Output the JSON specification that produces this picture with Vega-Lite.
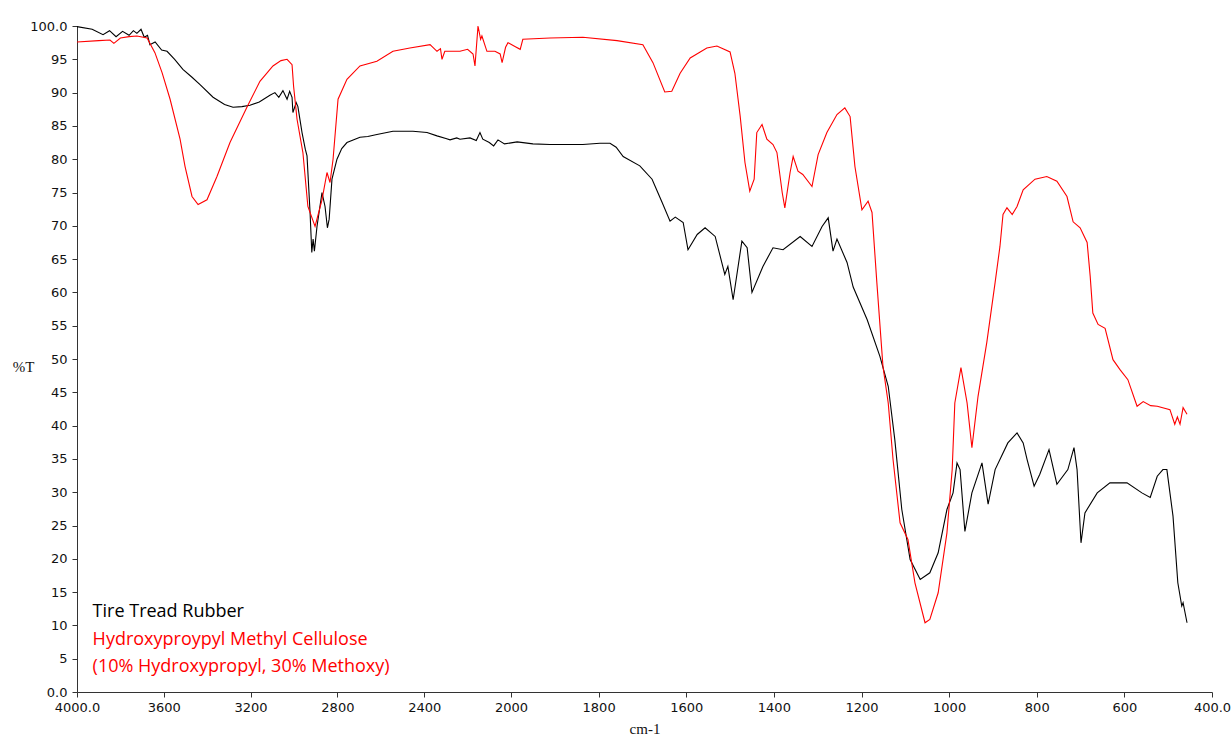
{
  "$schema": "https://vega.github.io/schema/vega-lite/v6.json",
  "width": 1135,
  "height": 666,
  "autosize": {"type": "none"},
  "padding": {"left": 77, "top": 26, "right": 19, "bottom": 46},
  "background": "white",
  "config": {"view": {"stroke": null}},
  "datasets": {
    "spectra": [
      {"series": "Tire Tread Rubber", "wn": 4000, "t": 99.9},
      {"series": "Tire Tread Rubber", "wn": 3930, "t": 99.5},
      {"series": "Tire Tread Rubber", "wn": 3880, "t": 98.7},
      {"series": "Tire Tread Rubber", "wn": 3850, "t": 99.3},
      {"series": "Tire Tread Rubber", "wn": 3820, "t": 98.4},
      {"series": "Tire Tread Rubber", "wn": 3790, "t": 99.2},
      {"series": "Tire Tread Rubber", "wn": 3760, "t": 98.6},
      {"series": "Tire Tread Rubber", "wn": 3740, "t": 99.3},
      {"series": "Tire Tread Rubber", "wn": 3724, "t": 98.9},
      {"series": "Tire Tread Rubber", "wn": 3705, "t": 99.5},
      {"series": "Tire Tread Rubber", "wn": 3690, "t": 98.3},
      {"series": "Tire Tread Rubber", "wn": 3675, "t": 98.6},
      {"series": "Tire Tread Rubber", "wn": 3664, "t": 97.2},
      {"series": "Tire Tread Rubber", "wn": 3640, "t": 97.6},
      {"series": "Tire Tread Rubber", "wn": 3610, "t": 96.4},
      {"series": "Tire Tread Rubber", "wn": 3585, "t": 96.2},
      {"series": "Tire Tread Rubber", "wn": 3550, "t": 95.0},
      {"series": "Tire Tread Rubber", "wn": 3512, "t": 93.5},
      {"series": "Tire Tread Rubber", "wn": 3470, "t": 92.3},
      {"series": "Tire Tread Rubber", "wn": 3433, "t": 91.2},
      {"series": "Tire Tread Rubber", "wn": 3373, "t": 89.3},
      {"series": "Tire Tread Rubber", "wn": 3320, "t": 88.2},
      {"series": "Tire Tread Rubber", "wn": 3281, "t": 87.8},
      {"series": "Tire Tread Rubber", "wn": 3240, "t": 87.9},
      {"series": "Tire Tread Rubber", "wn": 3203, "t": 88.1},
      {"series": "Tire Tread Rubber", "wn": 3160, "t": 88.6},
      {"series": "Tire Tread Rubber", "wn": 3111, "t": 89.6},
      {"series": "Tire Tread Rubber", "wn": 3088, "t": 90.0},
      {"series": "Tire Tread Rubber", "wn": 3070, "t": 89.3},
      {"series": "Tire Tread Rubber", "wn": 3051, "t": 90.3},
      {"series": "Tire Tread Rubber", "wn": 3032, "t": 89.0},
      {"series": "Tire Tread Rubber", "wn": 3020, "t": 90.2},
      {"series": "Tire Tread Rubber", "wn": 3009, "t": 89.3},
      {"series": "Tire Tread Rubber", "wn": 3005, "t": 87.0},
      {"series": "Tire Tread Rubber", "wn": 2990, "t": 88.5},
      {"series": "Tire Tread Rubber", "wn": 2982, "t": 87.9},
      {"series": "Tire Tread Rubber", "wn": 2963, "t": 84.0},
      {"series": "Tire Tread Rubber", "wn": 2948, "t": 81.5},
      {"series": "Tire Tread Rubber", "wn": 2940, "t": 80.5},
      {"series": "Tire Tread Rubber", "wn": 2926, "t": 72.0},
      {"series": "Tire Tread Rubber", "wn": 2918, "t": 66.0},
      {"series": "Tire Tread Rubber", "wn": 2912, "t": 68.0},
      {"series": "Tire Tread Rubber", "wn": 2906, "t": 66.2},
      {"series": "Tire Tread Rubber", "wn": 2894, "t": 69.9},
      {"series": "Tire Tread Rubber", "wn": 2871, "t": 75.0},
      {"series": "Tire Tread Rubber", "wn": 2857, "t": 72.9},
      {"series": "Tire Tread Rubber", "wn": 2846, "t": 69.7},
      {"series": "Tire Tread Rubber", "wn": 2838, "t": 71.0},
      {"series": "Tire Tread Rubber", "wn": 2825, "t": 77.0},
      {"series": "Tire Tread Rubber", "wn": 2802, "t": 80.0},
      {"series": "Tire Tread Rubber", "wn": 2780, "t": 81.6},
      {"series": "Tire Tread Rubber", "wn": 2756, "t": 82.5},
      {"series": "Tire Tread Rubber", "wn": 2696, "t": 83.3},
      {"series": "Tire Tread Rubber", "wn": 2660, "t": 83.4},
      {"series": "Tire Tread Rubber", "wn": 2618, "t": 83.7},
      {"series": "Tire Tread Rubber", "wn": 2544, "t": 84.2},
      {"series": "Tire Tread Rubber", "wn": 2452, "t": 84.2},
      {"series": "Tire Tread Rubber", "wn": 2387, "t": 84.0},
      {"series": "Tire Tread Rubber", "wn": 2341, "t": 83.5},
      {"series": "Tire Tread Rubber", "wn": 2300, "t": 83.1},
      {"series": "Tire Tread Rubber", "wn": 2281, "t": 82.9},
      {"series": "Tire Tread Rubber", "wn": 2250, "t": 83.2},
      {"series": "Tire Tread Rubber", "wn": 2235, "t": 83.0},
      {"series": "Tire Tread Rubber", "wn": 2189, "t": 83.2},
      {"series": "Tire Tread Rubber", "wn": 2160, "t": 82.8},
      {"series": "Tire Tread Rubber", "wn": 2143, "t": 84.0},
      {"series": "Tire Tread Rubber", "wn": 2130, "t": 83.0},
      {"series": "Tire Tread Rubber", "wn": 2100, "t": 82.5},
      {"series": "Tire Tread Rubber", "wn": 2080, "t": 82.0},
      {"series": "Tire Tread Rubber", "wn": 2060, "t": 82.9},
      {"series": "Tire Tread Rubber", "wn": 2030, "t": 82.3},
      {"series": "Tire Tread Rubber", "wn": 1986, "t": 82.6},
      {"series": "Tire Tread Rubber", "wn": 1950, "t": 82.3},
      {"series": "Tire Tread Rubber", "wn": 1911, "t": 82.2},
      {"series": "Tire Tread Rubber", "wn": 1836, "t": 82.2},
      {"series": "Tire Tread Rubber", "wn": 1797, "t": 82.4},
      {"series": "Tire Tread Rubber", "wn": 1774, "t": 82.4},
      {"series": "Tire Tread Rubber", "wn": 1760, "t": 81.8},
      {"series": "Tire Tread Rubber", "wn": 1744, "t": 80.4},
      {"series": "Tire Tread Rubber", "wn": 1706, "t": 79.0},
      {"series": "Tire Tread Rubber", "wn": 1678, "t": 77.0},
      {"series": "Tire Tread Rubber", "wn": 1655, "t": 73.5},
      {"series": "Tire Tread Rubber", "wn": 1637, "t": 70.7},
      {"series": "Tire Tread Rubber", "wn": 1625, "t": 71.3},
      {"series": "Tire Tread Rubber", "wn": 1607, "t": 70.5},
      {"series": "Tire Tread Rubber", "wn": 1596, "t": 66.4},
      {"series": "Tire Tread Rubber", "wn": 1575, "t": 68.7},
      {"series": "Tire Tread Rubber", "wn": 1557, "t": 69.7},
      {"series": "Tire Tread Rubber", "wn": 1534, "t": 68.4},
      {"series": "Tire Tread Rubber", "wn": 1512, "t": 62.7},
      {"series": "Tire Tread Rubber", "wn": 1505, "t": 63.9},
      {"series": "Tire Tread Rubber", "wn": 1493, "t": 58.9},
      {"series": "Tire Tread Rubber", "wn": 1473, "t": 67.7},
      {"series": "Tire Tread Rubber", "wn": 1461, "t": 66.7},
      {"series": "Tire Tread Rubber", "wn": 1450, "t": 60.0},
      {"series": "Tire Tread Rubber", "wn": 1425, "t": 63.9},
      {"series": "Tire Tread Rubber", "wn": 1402, "t": 66.7},
      {"series": "Tire Tread Rubber", "wn": 1379, "t": 66.4},
      {"series": "Tire Tread Rubber", "wn": 1340, "t": 68.4},
      {"series": "Tire Tread Rubber", "wn": 1313, "t": 66.9},
      {"series": "Tire Tread Rubber", "wn": 1290, "t": 69.9},
      {"series": "Tire Tread Rubber", "wn": 1276, "t": 71.2},
      {"series": "Tire Tread Rubber", "wn": 1265, "t": 66.2},
      {"series": "Tire Tread Rubber", "wn": 1256, "t": 68.0},
      {"series": "Tire Tread Rubber", "wn": 1233, "t": 64.5},
      {"series": "Tire Tread Rubber", "wn": 1219, "t": 60.8},
      {"series": "Tire Tread Rubber", "wn": 1187, "t": 55.9},
      {"series": "Tire Tread Rubber", "wn": 1158, "t": 50.4},
      {"series": "Tire Tread Rubber", "wn": 1139, "t": 45.9},
      {"series": "Tire Tread Rubber", "wn": 1124, "t": 37.9},
      {"series": "Tire Tread Rubber", "wn": 1108, "t": 27.4},
      {"series": "Tire Tread Rubber", "wn": 1089, "t": 19.9},
      {"series": "Tire Tread Rubber", "wn": 1066, "t": 16.9},
      {"series": "Tire Tread Rubber", "wn": 1044, "t": 17.9},
      {"series": "Tire Tread Rubber", "wn": 1025, "t": 20.9},
      {"series": "Tire Tread Rubber", "wn": 1005, "t": 27.4},
      {"series": "Tire Tread Rubber", "wn": 991, "t": 29.9},
      {"series": "Tire Tread Rubber", "wn": 982, "t": 34.4},
      {"series": "Tire Tread Rubber", "wn": 975, "t": 33.4},
      {"series": "Tire Tread Rubber", "wn": 964, "t": 24.1},
      {"series": "Tire Tread Rubber", "wn": 948, "t": 29.9},
      {"series": "Tire Tread Rubber", "wn": 925, "t": 34.4},
      {"series": "Tire Tread Rubber", "wn": 911, "t": 28.2},
      {"series": "Tire Tread Rubber", "wn": 895, "t": 33.4},
      {"series": "Tire Tread Rubber", "wn": 866, "t": 37.4},
      {"series": "Tire Tread Rubber", "wn": 845, "t": 38.9},
      {"series": "Tire Tread Rubber", "wn": 831, "t": 37.4},
      {"series": "Tire Tread Rubber", "wn": 822, "t": 34.9},
      {"series": "Tire Tread Rubber", "wn": 806, "t": 30.9},
      {"series": "Tire Tread Rubber", "wn": 793, "t": 32.7},
      {"series": "Tire Tread Rubber", "wn": 772, "t": 36.4},
      {"series": "Tire Tread Rubber", "wn": 754, "t": 31.2},
      {"series": "Tire Tread Rubber", "wn": 729, "t": 33.4},
      {"series": "Tire Tread Rubber", "wn": 715, "t": 36.7},
      {"series": "Tire Tread Rubber", "wn": 708, "t": 33.4},
      {"series": "Tire Tread Rubber", "wn": 699, "t": 22.4},
      {"series": "Tire Tread Rubber", "wn": 690, "t": 26.9},
      {"series": "Tire Tread Rubber", "wn": 662, "t": 29.9},
      {"series": "Tire Tread Rubber", "wn": 633, "t": 31.4},
      {"series": "Tire Tread Rubber", "wn": 594, "t": 31.4},
      {"series": "Tire Tread Rubber", "wn": 560, "t": 29.9},
      {"series": "Tire Tread Rubber", "wn": 541, "t": 29.2},
      {"series": "Tire Tread Rubber", "wn": 525, "t": 32.4},
      {"series": "Tire Tread Rubber", "wn": 512, "t": 33.4},
      {"series": "Tire Tread Rubber", "wn": 503, "t": 33.4},
      {"series": "Tire Tread Rubber", "wn": 489, "t": 26.4},
      {"series": "Tire Tread Rubber", "wn": 478, "t": 16.4},
      {"series": "Tire Tread Rubber", "wn": 469, "t": 12.9},
      {"series": "Tire Tread Rubber", "wn": 466, "t": 13.4},
      {"series": "Tire Tread Rubber", "wn": 457, "t": 10.4},

      {"series": "HPMC", "wn": 4000, "t": 97.6},
      {"series": "HPMC", "wn": 3900, "t": 97.8},
      {"series": "HPMC", "wn": 3848, "t": 97.9},
      {"series": "HPMC", "wn": 3830, "t": 97.4},
      {"series": "HPMC", "wn": 3800, "t": 98.2},
      {"series": "HPMC", "wn": 3760, "t": 98.4},
      {"series": "HPMC", "wn": 3724, "t": 98.5},
      {"series": "HPMC", "wn": 3677, "t": 98.2},
      {"series": "HPMC", "wn": 3641, "t": 96.0},
      {"series": "HPMC", "wn": 3608, "t": 93.0},
      {"series": "HPMC", "wn": 3571, "t": 89.0},
      {"series": "HPMC", "wn": 3525, "t": 83.0},
      {"series": "HPMC", "wn": 3502, "t": 78.9},
      {"series": "HPMC", "wn": 3470, "t": 74.4},
      {"series": "HPMC", "wn": 3442, "t": 73.2},
      {"series": "HPMC", "wn": 3401, "t": 73.9},
      {"series": "HPMC", "wn": 3355, "t": 77.4},
      {"series": "HPMC", "wn": 3295, "t": 82.5},
      {"series": "HPMC", "wn": 3217, "t": 87.8},
      {"series": "HPMC", "wn": 3157, "t": 91.7},
      {"series": "HPMC", "wn": 3097, "t": 94.0},
      {"series": "HPMC", "wn": 3060, "t": 94.8},
      {"series": "HPMC", "wn": 3032, "t": 95.0},
      {"series": "HPMC", "wn": 3009, "t": 94.2},
      {"series": "HPMC", "wn": 3002, "t": 91.0},
      {"series": "HPMC", "wn": 2986, "t": 86.0},
      {"series": "HPMC", "wn": 2959, "t": 81.0},
      {"series": "HPMC", "wn": 2936, "t": 72.9},
      {"series": "HPMC", "wn": 2903, "t": 69.9},
      {"series": "HPMC", "wn": 2871, "t": 73.9},
      {"series": "HPMC", "wn": 2848, "t": 78.0},
      {"series": "HPMC", "wn": 2834, "t": 76.5},
      {"series": "HPMC", "wn": 2820, "t": 80.0},
      {"series": "HPMC", "wn": 2797, "t": 89.0},
      {"series": "HPMC", "wn": 2756, "t": 92.0},
      {"series": "HPMC", "wn": 2696, "t": 94.0},
      {"series": "HPMC", "wn": 2618, "t": 94.7},
      {"series": "HPMC", "wn": 2544, "t": 96.2},
      {"series": "HPMC", "wn": 2466, "t": 96.7},
      {"series": "HPMC", "wn": 2373, "t": 97.2},
      {"series": "HPMC", "wn": 2341, "t": 96.2},
      {"series": "HPMC", "wn": 2325, "t": 96.6},
      {"series": "HPMC", "wn": 2318, "t": 95.0},
      {"series": "HPMC", "wn": 2305, "t": 96.2},
      {"series": "HPMC", "wn": 2235, "t": 96.2},
      {"series": "HPMC", "wn": 2200, "t": 96.5},
      {"series": "HPMC", "wn": 2175, "t": 95.8},
      {"series": "HPMC", "wn": 2166, "t": 94.0},
      {"series": "HPMC", "wn": 2152, "t": 100.0},
      {"series": "HPMC", "wn": 2140, "t": 98.0},
      {"series": "HPMC", "wn": 2134, "t": 98.5},
      {"series": "HPMC", "wn": 2111, "t": 96.2},
      {"series": "HPMC", "wn": 2074, "t": 96.2},
      {"series": "HPMC", "wn": 2050, "t": 95.8},
      {"series": "HPMC", "wn": 2041, "t": 94.5},
      {"series": "HPMC", "wn": 2025, "t": 96.8},
      {"series": "HPMC", "wn": 2014, "t": 97.5},
      {"series": "HPMC", "wn": 1990, "t": 96.9},
      {"series": "HPMC", "wn": 1979, "t": 96.5},
      {"series": "HPMC", "wn": 1973, "t": 98.0},
      {"series": "HPMC", "wn": 1911, "t": 98.2},
      {"series": "HPMC", "wn": 1836, "t": 98.3},
      {"series": "HPMC", "wn": 1758, "t": 97.8},
      {"series": "HPMC", "wn": 1699, "t": 97.2},
      {"series": "HPMC", "wn": 1676, "t": 94.5},
      {"series": "HPMC", "wn": 1649, "t": 90.1},
      {"series": "HPMC", "wn": 1633, "t": 90.2},
      {"series": "HPMC", "wn": 1614, "t": 92.9},
      {"series": "HPMC", "wn": 1591, "t": 95.2},
      {"series": "HPMC", "wn": 1553, "t": 96.7},
      {"series": "HPMC", "wn": 1530, "t": 97.0},
      {"series": "HPMC", "wn": 1500, "t": 96.1},
      {"series": "HPMC", "wn": 1489, "t": 92.9},
      {"series": "HPMC", "wn": 1477, "t": 86.5},
      {"series": "HPMC", "wn": 1466, "t": 79.5},
      {"series": "HPMC", "wn": 1455, "t": 75.2},
      {"series": "HPMC", "wn": 1445, "t": 77.0},
      {"series": "HPMC", "wn": 1439, "t": 84.0},
      {"series": "HPMC", "wn": 1427, "t": 85.2},
      {"series": "HPMC", "wn": 1416, "t": 83.0},
      {"series": "HPMC", "wn": 1402, "t": 82.2},
      {"series": "HPMC", "wn": 1393, "t": 81.0},
      {"series": "HPMC", "wn": 1381, "t": 75.0},
      {"series": "HPMC", "wn": 1375, "t": 72.7},
      {"series": "HPMC", "wn": 1363, "t": 78.0},
      {"series": "HPMC", "wn": 1356, "t": 80.4},
      {"series": "HPMC", "wn": 1345, "t": 78.2},
      {"series": "HPMC", "wn": 1334, "t": 77.7},
      {"series": "HPMC", "wn": 1313, "t": 75.9},
      {"series": "HPMC", "wn": 1299, "t": 80.7},
      {"series": "HPMC", "wn": 1279, "t": 84.0},
      {"series": "HPMC", "wn": 1256, "t": 86.7},
      {"series": "HPMC", "wn": 1238, "t": 87.7},
      {"series": "HPMC", "wn": 1226, "t": 86.4},
      {"series": "HPMC", "wn": 1215, "t": 78.9},
      {"series": "HPMC", "wn": 1199, "t": 72.4},
      {"series": "HPMC", "wn": 1185, "t": 73.7},
      {"series": "HPMC", "wn": 1176, "t": 72.0},
      {"series": "HPMC", "wn": 1165, "t": 61.5},
      {"series": "HPMC", "wn": 1151, "t": 48.9},
      {"series": "HPMC", "wn": 1139, "t": 43.4},
      {"series": "HPMC", "wn": 1128, "t": 34.9},
      {"series": "HPMC", "wn": 1112, "t": 25.4},
      {"series": "HPMC", "wn": 1094, "t": 22.9},
      {"series": "HPMC", "wn": 1078, "t": 16.4},
      {"series": "HPMC", "wn": 1055, "t": 10.4},
      {"series": "HPMC", "wn": 1044, "t": 10.9},
      {"series": "HPMC", "wn": 1025, "t": 14.9},
      {"series": "HPMC", "wn": 1005, "t": 23.9},
      {"series": "HPMC", "wn": 993, "t": 33.4},
      {"series": "HPMC", "wn": 987, "t": 43.4},
      {"series": "HPMC", "wn": 973, "t": 48.7},
      {"series": "HPMC", "wn": 959, "t": 43.4},
      {"series": "HPMC", "wn": 948, "t": 36.7},
      {"series": "HPMC", "wn": 934, "t": 44.4},
      {"series": "HPMC", "wn": 914, "t": 52.5},
      {"series": "HPMC", "wn": 895, "t": 61.5},
      {"series": "HPMC", "wn": 884, "t": 66.9},
      {"series": "HPMC", "wn": 877, "t": 71.7},
      {"series": "HPMC", "wn": 868, "t": 72.7},
      {"series": "HPMC", "wn": 856, "t": 71.7},
      {"series": "HPMC", "wn": 845, "t": 72.9},
      {"series": "HPMC", "wn": 831, "t": 75.4},
      {"series": "HPMC", "wn": 804, "t": 77.0},
      {"series": "HPMC", "wn": 777, "t": 77.4},
      {"series": "HPMC", "wn": 754, "t": 76.7},
      {"series": "HPMC", "wn": 731, "t": 74.4},
      {"series": "HPMC", "wn": 717, "t": 70.6},
      {"series": "HPMC", "wn": 701, "t": 69.7},
      {"series": "HPMC", "wn": 685, "t": 67.5},
      {"series": "HPMC", "wn": 678, "t": 62.4},
      {"series": "HPMC", "wn": 672, "t": 56.9},
      {"series": "HPMC", "wn": 660, "t": 55.2},
      {"series": "HPMC", "wn": 644, "t": 54.6},
      {"series": "HPMC", "wn": 626, "t": 49.9},
      {"series": "HPMC", "wn": 610, "t": 48.4},
      {"series": "HPMC", "wn": 592, "t": 46.9},
      {"series": "HPMC", "wn": 571, "t": 42.9},
      {"series": "HPMC", "wn": 557, "t": 43.6},
      {"series": "HPMC", "wn": 540, "t": 43.0},
      {"series": "HPMC", "wn": 525, "t": 42.9},
      {"series": "HPMC", "wn": 496, "t": 42.4},
      {"series": "HPMC", "wn": 485, "t": 40.2},
      {"series": "HPMC", "wn": 479, "t": 41.3},
      {"series": "HPMC", "wn": 473, "t": 40.2},
      {"series": "HPMC", "wn": 466, "t": 42.7},
      {"series": "HPMC", "wn": 457, "t": 41.7}
    ],
    "labels": [
      {"label": "Tire Tread Rubber", "series": "Tire Tread Rubber", "row": 1},
      {"label": "Hydroxyproypyl Methyl Cellulose", "series": "HPMC", "row": 2},
      {"label": "(10% Hydroxypropyl, 30% Methoxy)", "series": "HPMC", "row": 3}
    ]
  },
  "layer": [
    {
      "data": {"name": "spectra"},
      "mark": {"type": "line", "strokeWidth": 1.1, "interpolate": "linear"},
      "encoding": {
        "x": {
          "field": "wn",
          "type": "quantitative",
          "scale": {"domain": [4000, 2000, 400], "range": [0, 434, 1135], "nice": false, "zero": false},
          "axis": {
            "title": "cm-1",
            "values": [4000, 3600, 3200, 2800, 2400, 2000, 1800, 1600, 1400, 1200, 1000, 800, 600, 400],
            "labelExpr": "datum.value == 4000 || datum.value == 400 ? format(datum.value, '.1f') : format(datum.value, 'd')",
            "grid": false,
            "domainColor": "#333333",
            "tickColor": "#333333",
            "tickSize": 5,
            "labelFont": "DejaVu Sans",
            "labelFontSize": 13,
            "labelColor": "#111111",
            "labelPadding": 4,
            "labelFlush": false,
            "labelOverlap": false,
            "titleFont": "Liberation Serif",
            "titleFontSize": 15,
            "titleFontWeight": "normal",
            "titleColor": "#111111",
            "titlePadding": 7
          }
        },
        "y": {
          "field": "t",
          "type": "quantitative",
          "scale": {"domain": [0, 100], "nice": false, "zero": false},
          "axis": {
            "title": "%T",
            "values": [0, 5, 10, 15, 20, 25, 30, 35, 40, 45, 50, 55, 60, 65, 70, 75, 80, 85, 90, 95, 100],
            "labelExpr": "datum.value == 100 || datum.value == 0 ? format(datum.value, '.1f') : format(datum.value, 'd')",
            "grid": false,
            "domainColor": "#333333",
            "tickColor": "#333333",
            "tickSize": 5,
            "labelFont": "DejaVu Sans",
            "labelFontSize": 13,
            "labelColor": "#111111",
            "labelPadding": 5,
            "labelFlush": false,
            "labelOverlap": false,
            "titleFont": "Liberation Serif",
            "titleFontSize": 15,
            "titleFontWeight": "normal",
            "titleColor": "#111111",
            "titleAngle": 0,
            "titleAlign": "center",
            "titleBaseline": "middle",
            "titleX": -54,
            "titleY": 340
          }
        },
        "color": {
          "field": "series",
          "type": "nominal",
          "scale": {"domain": ["HPMC", "Tire Tread Rubber"], "range": ["#ff0000", "#000000"]},
          "legend": null
        }
      }
    },
    {
      "data": {"name": "labels"},
      "mark": {"type": "text", "align": "left", "baseline": "middle", "font": "Open Sans", "fontSize": 18},
      "encoding": {
        "x": {"datum": 3928, "type": "quantitative"},
        "y": {"field": "row", "type": "quantitative", "scale": {"domain": [1, 3], "range": [586, 641]}, "axis": null},
        "text": {"field": "label"},
        "color": {
          "field": "series",
          "type": "nominal",
          "scale": {"domain": ["HPMC", "Tire Tread Rubber"], "range": ["#ff2020", "#000000"]},
          "legend": null
        }
      }
    }
  ],
  "resolve": {"scale": {"y": "independent"}}
}
